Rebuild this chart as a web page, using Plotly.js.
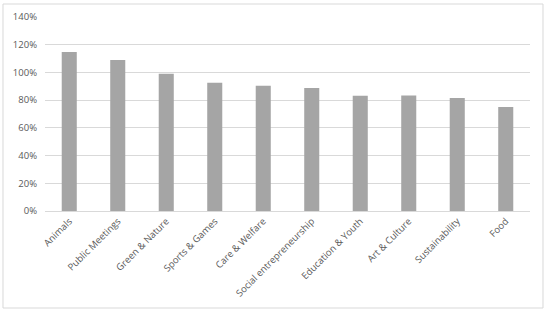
<!DOCTYPE html>
<html><head><meta charset="utf-8">
<script src="https://cdn.plot.ly/plotly-3.0.1.min.js"></script>
<style>html,body{margin:0;padding:0;background:#fff;}#chart{width:550px;height:316px;}</style>
</head><body><div id="chart"></div>
<script>
const categories = ["Animals","Public Meetings","Green & Nature","Sports & Games","Care & Welfare","Social entrepreneurship","Education & Youth","Art & Culture","Sustainability","Food"];
const values = [1.147, 1.090, 0.991, 0.926, 0.904, 0.887, 0.832, 0.834, 0.815, 0.750];
const yTicks = [0, 0.2, 0.4, 0.6, 0.8, 1.0, 1.2, 1.4];

const font = {family: "Open Sans, Liberation Sans, sans-serif", size: 9.5, color: "#595959"};
Plotly.newPlot("chart", [{
  type: "bar", x: categories, y: values,
  marker: {color: "#a5a5a5"}, width: 0.31, hoverinfo: "none"
}], {
  width: 550, height: 316,
  margin: {l: 45, r: 20, t: 17, b: 105},
  paper_bgcolor: "#fff", plot_bgcolor: "#fff",
  showlegend: false,
  font: font,
  xaxis: {tickangle: -45, tickfont: font, showgrid: false, showline: true, linecolor: "#d9d9d9", linewidth: 1, ticks: ""},
  yaxis: {range: [0, 1.4], tickvals: yTicks, tickformat: ".0%", tickfont: font, showgrid: true, gridcolor: "#d9d9d9", zeroline: false, showline: false, ticks: "", ticklabelstandoff: 7},
  shapes: [{type: "rect", xref: "paper", yref: "paper", x0: -0.0866, x1: 1.0268, y0: -0.5, y1: 1.067, line: {color: "#d9d9d9", width: 1}}]
}, {displayModeBar: false, staticPlot: true});
</script></body></html>
